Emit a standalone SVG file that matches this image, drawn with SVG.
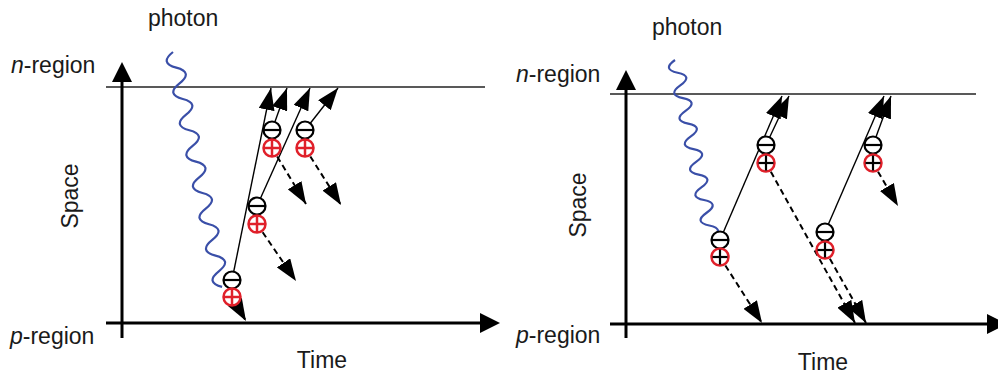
<svg xmlns="http://www.w3.org/2000/svg" width="998" height="376" viewBox="0 0 998 376">
<style>
text{font-family:"Liberation Sans",Arial,sans-serif;font-size:23px;fill:#1a1a1a}
.ax{stroke:#000;stroke-width:3;fill:none}
.top{stroke:#222;stroke-width:1.4;fill:none}
.sol{stroke:#000;stroke-width:1.4;fill:none;marker-end:url(#ah)}
.dsh{stroke:#000;stroke-width:2;stroke-dasharray:6 4;fill:none;marker-end:url(#ah)}
.wave{stroke:#3a4fa8;stroke-width:2.2;fill:none}
.mc{fill:#fff;stroke:#000;stroke-width:2.2}
.pcr{fill:#fff;stroke:#e0202a;stroke-width:2.5}
.pl{stroke:#e0202a;stroke-width:2.5}
.pk{stroke:#000;stroke-width:2.2}
</style>
<defs>
<marker id="ah" markerUnits="userSpaceOnUse" markerWidth="22" markerHeight="16" refX="22" refY="8" orient="auto">
<path d="M0,0 L22,8 L0,16 Z" fill="#000"/>
</marker>
<g id="minus"><circle r="8.5" class="mc"/><line x1="-8.5" y1="0" x2="8.5" y2="0" stroke="#000" stroke-width="2.2"/></g>
<g id="plusR"><circle r="8.5" class="pcr"/><line x1="-8.5" y1="0" x2="8.5" y2="0" class="pl"/><line x1="0" y1="-8.5" x2="0" y2="8.5" class="pl"/></g>
<g id="plusK"><circle r="8.5" class="pcr" stroke-width="2.2"/><line x1="-7.5" y1="0" x2="7.5" y2="0" class="pk"/><line x1="0" y1="-7.5" x2="0" y2="7.5" class="pk"/></g>
</defs>
<rect width="998" height="376" fill="#fff"/>

<!-- Left panel axes -->
<g id="left-axes">
<line class="top" x1="106" y1="87" x2="485" y2="87"/>
<line class="ax" x1="122" y1="338" x2="122" y2="80"/>
<polygon points="122,62 112,82 132,82" fill="#000"/>
<line class="ax" x1="106" y1="323" x2="482" y2="323"/>
<polygon points="500,323 480,313 480,333" fill="#000"/>
<text x="11" y="73"><tspan font-style="italic">n</tspan>-region</text>
<text x="10" y="344"><tspan font-style="italic">p</tspan>-region</text>
<text x="322" y="368" text-anchor="middle">Time</text>
<text transform="translate(78,196) rotate(-90)" text-anchor="middle">Space</text>
<text x="148" y="26">photon</text>
</g>

<!-- Right panel axes -->
<g id="right-axes">
<line class="top" x1="610" y1="94" x2="976" y2="94"/>
<line class="ax" x1="626" y1="338" x2="626" y2="88"/>
<polygon points="626,70 616,90 636,90" fill="#000"/>
<line class="ax" x1="610" y1="324" x2="990" y2="324"/>
<polygon points="1007,324 987,314 987,334" fill="#000"/>
<text x="516" y="82"><tspan font-style="italic">n</tspan>-region</text>
<text x="516" y="343"><tspan font-style="italic">p</tspan>-region</text>
<text x="823" y="370" text-anchor="middle">Time</text>
<text transform="translate(586,205) rotate(-90)" text-anchor="middle">Space</text>
<text x="652" y="35">photon</text>
</g>

<!-- photons -->
<g id="photon-left">
<path class="wave" transform="translate(173,52) rotate(-11.8)" d="M0,0 Q-16,8 0,16 T0,32 T0,48 T0,64 T0,80 T0,96 T0,112 T0,128 T0,144 T0,160 T0,176 T0,192 T0,208 T0,224 T0,240"/>
</g>
<g id="photon-right">
<path class="wave" transform="translate(675,60) rotate(-11.7)" d="M0,0 Q-15,6.5 0,13 T0,26 T0,39 T0,52 T0,65 T0,78 T0,91 T0,104 T0,117 T0,130 T0,143 T0,156 T0,169 T0,182"/>
</g>

<!-- connectors -->
<g id="connectors">
<line class="sol" x1="232" y1="280" x2="271" y2="88"/>
<line class="dsh" x1="232" y1="297" x2="246" y2="321"/>
<line class="sol" x1="257" y1="206" x2="310" y2="88"/>
<line class="dsh" x1="257" y1="224" x2="296" y2="281"/>
<line class="sol" x1="272" y1="130" x2="287" y2="88"/>
<line class="dsh" x1="272" y1="148" x2="306" y2="204"/>
<line class="sol" x1="305" y1="130" x2="338" y2="88"/>
<line class="dsh" x1="305" y1="148" x2="341" y2="205"/>

<line class="sol" x1="720" y1="240" x2="782" y2="96"/>
<line class="dsh" x1="720" y1="257" x2="762" y2="323"/>
<line class="sol" x1="766" y1="145" x2="789" y2="96"/>
<line class="dsh" x1="766" y1="163" x2="855" y2="323"/>
<line class="sol" x1="825" y1="232" x2="884" y2="96"/>
<line class="dsh" x1="825" y1="250" x2="866" y2="323"/>
<line class="sol" x1="873" y1="145" x2="891" y2="96"/>
<line class="dsh" x1="873" y1="163" x2="898" y2="206"/>
</g>

<!-- carriers left -->
<g id="e1"><use href="#minus" x="232" y="280"/></g>
<g id="h1"><use href="#plusR" x="232" y="297"/></g>
<g id="e2"><use href="#minus" x="257" y="206"/></g>
<g id="h2"><use href="#plusR" x="257" y="224"/></g>
<g id="e3"><use href="#minus" x="272" y="130"/></g>
<g id="h3"><use href="#plusR" x="272" y="148"/></g>
<g id="e4"><use href="#minus" x="305" y="130"/></g>
<g id="h4"><use href="#plusR" x="305" y="148"/></g>

<!-- carriers right -->
<g id="eA"><use href="#minus" x="720" y="240"/></g>
<g id="hA"><use href="#plusK" x="720" y="257"/></g>
<g id="eB"><use href="#minus" x="766" y="145"/></g>
<g id="hB"><use href="#plusK" x="766" y="163"/></g>
<g id="eC"><use href="#minus" x="825" y="232"/></g>
<g id="hC"><use href="#plusK" x="825" y="250"/></g>
<g id="eD"><use href="#minus" x="873" y="145"/></g>
<g id="hD"><use href="#plusK" x="873" y="163"/></g>
</svg>
